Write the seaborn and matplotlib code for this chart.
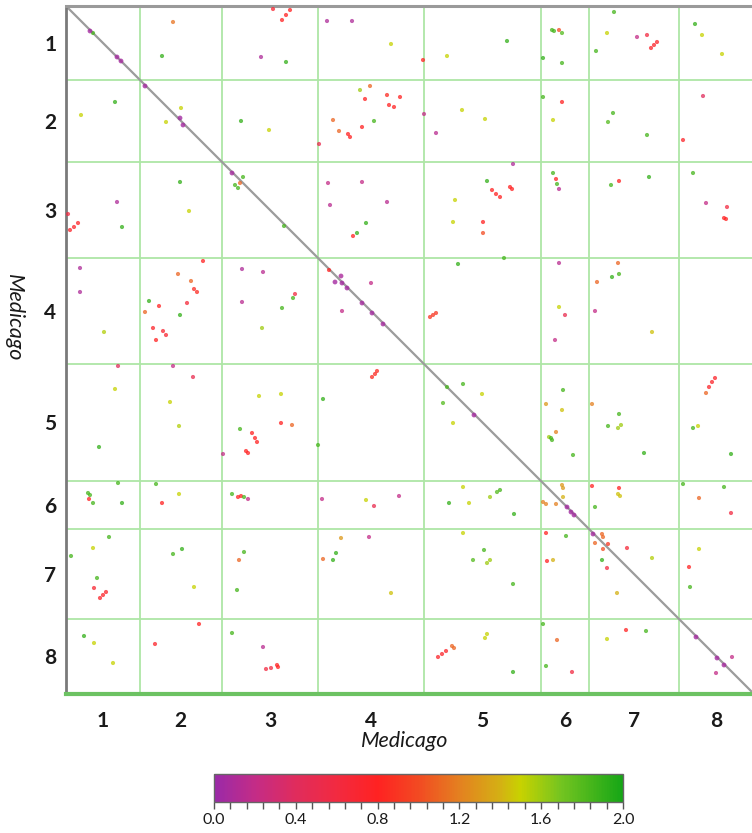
import matplotlib
matplotlib.use("Agg")
import numpy as np
import pandas as pd
import matplotlib.pyplot as plt
import seaborn as sns
from matplotlib.colors import LinearSegmentedColormap, Normalize
from matplotlib.cm import ScalarMappable
from matplotlib.ticker import MultipleLocator

# Medicago chromosomes (ordered along both axes) and their sizes
chrom_labels = ["1", "2", "3", "4", "5", "6", "7", "8"]
chrom_sizes = [73.5, 82.5, 96, 105.5, 117.5, 48, 90, 75]

# Syntenic anchor hits (x position, y position, Ks), grouped by y-axis chromosome
hits_chr1 = [(107, 16, 1.15), (96, 50, 1.9), (216, 14, 0.8), (220, 9, 0.8), (224, 4, 0.8),
             (207, 3, 0.7), (261, 15, 0.1), (286, 15, 0.1), (325, 38, 1.5), (357, 54, 0.8),
             (381, 50, 1.5), (195, 51, 0.1), (220, 56, 1.9), (441, 35, 1.9), (486, 24, 1.85),
             (488, 25, 1.85), (493, 24, 1.0), (496, 27, 1.8), (477, 52, 1.9), (496, 57, 1.85),
             (548, 6, 1.85), (541, 27, 1.5), (571, 31, 0.2), (581, 29, 0.6), (585, 42, 0.75),
             (588, 39, 0.75), (591, 36, 0.75), (530, 45, 1.85), (629, 18, 1.9), (636, 29, 1.5),
             (656, 48, 1.5), (27, 27, 1.85)]
hits_chr2 = [(49, 96, 1.9), (15, 109, 1.5), (115, 102, 1.5), (100, 116, 1.5), (175, 115, 1.9),
             (304, 80, 1.1), (294, 84, 1.6), (299, 93, 0.8), (321, 89, 0.85), (334, 91, 0.8),
             (323, 99, 0.8), (328, 101, 0.8), (267, 114, 1.1), (308, 115, 1.85), (296, 121, 0.8),
             (273, 125, 1.1), (282, 128, 0.8), (284, 131, 0.8), (253, 138, 0.5), (203, 124, 1.5),
             (358, 108, 0.2), (370, 127, 0.15), (396, 104, 1.5), (419, 113, 1.5), (477, 91, 1.85),
             (496, 96, 0.8), (487, 114, 1.5), (547, 107, 1.85), (542, 116, 1.8), (581, 129, 1.85),
             (637, 90, 0.4), (617, 134, 0.75)]
hits_chr3 = [(114, 176, 1.9), (51, 196, 0.1), (123, 205, 1.5), (2, 208, 0.6), (4, 224, 0.75),
             (8, 221, 0.75), (12, 217, 0.75), (56, 221, 1.9), (174, 177, 1.1), (169, 179, 1.85),
             (177, 171, 1.85), (172, 182, 1.85), (262, 177, 0.2), (296, 176, 0.2), (264, 199, 0.15),
             (321, 196, 0.15), (300, 217, 1.9), (291, 227, 1.9), (287, 230, 0.8), (421, 175, 1.9),
             (426, 184, 0.8), (430, 188, 0.8), (434, 191, 0.8), (389, 194, 1.5), (387, 216, 1.5),
             (417, 216, 0.8), (417, 227, 1.0), (447, 158, 0.1), (444, 181, 0.8), (446, 183, 0.8),
             (487, 167, 1.85), (490, 173, 0.8), (491, 178, 1.85), (493, 183, 0.15), (545, 179, 1.85),
             (553, 175, 0.8), (583, 171, 1.9), (627, 167, 1.85), (640, 197, 0.2), (661, 201, 0.6),
             (658, 212, 0.8), (660, 213, 0.8), (218, 220, 1.85)]
hits_chr4 = [(14, 262, 0.1), (14, 286, 0.1), (137, 255, 0.8), (112, 268, 1.1), (125, 275, 1.1),
             (128, 283, 0.85), (131, 286, 0.85), (83, 295, 1.9), (93, 300, 0.8), (79, 306, 1.1),
             (121, 297, 0.65), (114, 309, 1.9), (87, 322, 0.75), (97, 325, 0.7), (100, 329, 0.7),
             (90, 334, 0.8), (38, 326, 1.55), (176, 296, 0.15), (176, 263, 0.1), (197, 266, 0.15),
             (229, 288, 0.6), (227, 292, 1.85), (216, 302, 1.85), (196, 322, 1.6), (305, 277, 0.2),
             (276, 305, 0.2), (364, 311, 0.9), (367, 309, 0.9), (370, 307, 0.9), (392, 258, 1.9),
             (438, 252, 1.85), (493, 257, 0.15), (552, 257, 1.1), (546, 271, 1.9), (553, 268, 1.85),
             (531, 276, 1.1), (493, 301, 1.5), (499, 309, 0.5), (489, 334, 0.2), (529, 305, 0.2),
             (586, 326, 1.45), (263, 264, 0.8)]
hits_chr5 = [(52, 360, 0.4), (107, 360, 0.2), (127, 371, 0.5), (49, 383, 1.5), (104, 396, 1.5),
             (113, 420, 1.55), (33, 441, 1.9), (157, 448, 0.2), (174, 423, 1.85), (180, 445, 0.8),
             (182, 447, 0.8), (306, 371, 0.85), (309, 368, 0.85), (311, 365, 0.85), (193, 390, 1.5),
             (215, 388, 1.5), (257, 393, 1.9), (215, 417, 0.8), (226, 419, 1.1), (186, 427, 0.8),
             (189, 432, 0.8), (191, 436, 0.8), (252, 439, 1.85), (397, 378, 1.85), (416, 388, 1.5),
             (377, 397, 1.8), (387, 417, 1.5), (649, 372, 0.75), (646, 376, 0.75), (643, 381, 0.75),
             (640, 387, 1.1), (497, 384, 1.85), (480, 398, 1.3), (496, 404, 1.45), (526, 398, 1.2),
             (490, 426, 1.2), (483, 431, 1.6), (486, 434, 1.85), (485, 432, 1.85), (507, 449, 1.85),
             (553, 408, 1.85), (542, 420, 1.85), (552, 422, 1.6), (555, 419, 1.6), (578, 447, 1.9),
             (627, 422, 1.85), (632, 420, 1.5), (665, 448, 1.9), (381, 381, 1.85)]
hits_chr6 = [(397, 481, 1.5), (496, 479, 1.3), (497, 482, 1.3), (526, 480, 0.8), (553, 482, 0.8),
             (552, 488, 1.45), (554, 490, 1.45), (529, 501, 1.85), (434, 484, 1.85), (448, 508, 1.9),
             (617, 478, 1.85), (658, 481, 1.85), (633, 492, 1.1), (665, 507, 0.6), (477, 496, 1.2),
             (480, 498, 1.2), (490, 498, 1.2), (497, 491, 1.4), (52, 477, 1.85), (90, 478, 1.85),
             (22, 487, 1.85), (24, 489, 1.85), (23, 493, 0.8), (27, 497, 1.85), (56, 497, 1.9),
             (113, 488, 1.5), (96, 497, 0.8), (166, 488, 1.85), (172, 491, 0.8), (175, 490, 0.8),
             (178, 491, 1.85), (182, 493, 0.2), (256, 493, 0.2), (300, 494, 1.5), (308, 500, 0.5),
             (333, 490, 0.2), (383, 497, 1.9), (403, 497, 1.5), (424, 491, 1.6), (431, 486, 1.8)]
hits_chr7 = [(480, 527, 0.8), (500, 530, 1.85), (481, 555, 0.8), (487, 554, 1.4), (447, 578, 1.85),
             (536, 528, 1.1), (537, 531, 1.1), (529, 537, 1.1), (537, 543, 1.0), (542, 538, 0.9),
             (561, 542, 0.65), (536, 554, 1.9), (541, 562, 0.6), (586, 552, 1.55), (551, 587, 1.4),
             (623, 561, 0.8), (633, 543, 1.5), (624, 581, 1.85), (43, 531, 1.85), (27, 542, 1.5),
             (5, 550, 1.85), (31, 572, 1.85), (28, 582, 0.7), (34, 592, 0.75), (37, 589, 0.75),
             (40, 586, 0.75), (107, 548, 1.85), (116, 543, 1.9), (128, 581, 1.5), (178, 546, 1.85),
             (173, 554, 1.1), (171, 584, 1.85), (275, 532, 1.3), (303, 531, 0.2), (270, 547, 1.9),
             (257, 553, 1.1), (267, 554, 1.9), (325, 587, 1.45), (397, 527, 1.5), (418, 544, 1.85),
             (407, 554, 1.8), (421, 557, 1.6), (424, 554, 1.6)]
hits_chr8 = [(477, 618, 1.85), (491, 634, 1.1), (480, 660, 1.85), (447, 666, 1.9), (506, 666, 0.6),
             (560, 624, 0.8), (580, 625, 1.85), (541, 633, 1.5), (666, 651, 0.2), (650, 667, 0.2),
             (133, 618, 0.8), (18, 630, 1.9), (28, 637, 1.5), (89, 638, 0.75), (47, 657, 1.5),
             (166, 627, 1.85), (197, 641, 0.15), (200, 663, 0.6), (205, 662, 0.6), (211, 659, 0.8),
             (212, 661, 0.8), (372, 651, 0.75), (376, 648, 0.75), (380, 645, 0.75), (386, 640, 1.1),
             (388, 642, 1.1), (419, 632, 1.5), (421, 628, 1.5)]

# Recent (self) duplications along the main diagonal
self_x = [24, 51, 55, 79, 114, 117, 166, 269, 275, 276, 281, 296, 306, 317, 408,
          501, 505, 508, 527, 630, 651, 658]
self_y = [25, 51, 55, 80, 112, 119, 167, 276, 270, 277, 282, 297, 307, 318, 409,
          501, 506, 509, 528, 631, 652, 659]
self_ks = [0.05, 0.05, 0.06, 0.05, 0.04, 0.05, 0.06, 0.05, 0.08, 0.05, 0.05, 0.06, 0.05, 0.06, 0.05,
           0.05, 0.04, 0.05, 0.06, 0.05, 0.05, 0.06]

ks_ticks = [0.0, 0.4, 0.8, 1.2, 1.6, 2.0]

# ---------------------------------------------------------------------------
sns.set_style("white")
plt.rcParams["font.family"] = ["Lato", "DejaVu Sans"]

ks_cmap = LinearSegmentedColormap.from_list(
    "ks",
    [(0.0, "#9a2aa8"), (0.1, "#c42c86"), (0.2, "#e02c5c"), (0.3, "#f22a40"),
     (0.4, "#ff2222"), (0.5, "#f24a22"), (0.6, "#e48020"), (0.7, "#d4b014"),
     (0.75, "#c8d200"), (0.85, "#74c420"), (1.0, "#16a616")])

hits = pd.DataFrame(
    hits_chr1 + hits_chr2 + hits_chr3 + hits_chr4 + hits_chr5 + hits_chr6 + hits_chr7 + hits_chr8,
    columns=["x", "y", "ks"])
selfdup = pd.DataFrame({"x": self_x, "y": self_y, "ks": self_ks})

genome = float(sum(chrom_sizes))
bounds = np.cumsum(chrom_sizes)
starts = bounds - np.array(chrom_sizes)
centers = starts + np.array(chrom_sizes) / 2.0

fig = plt.figure(figsize=(7.52, 8.33), dpi=100)
ax = fig.add_axes([66 / 752, 1 - 694 / 833, 688 / 752, 688 / 833])

grid_green = "#aee6a6"
for b in bounds[:-1]:
    ax.axvline(b, color=grid_green, lw=1.3, zorder=1)
    ax.axhline(b, color=grid_green, lw=1.3, zorder=1)

ax.plot([0, genome], [0, genome], color="#9c9c9c", lw=1.6, zorder=2)

sns.scatterplot(data=hits, x="x", y="y", hue="ks", palette=ks_cmap, hue_norm=(0, 2),
                s=9, linewidth=0, alpha=0.75, legend=False, ax=ax, zorder=3)
sns.scatterplot(data=selfdup, x="x", y="y", hue="ks", palette=ks_cmap, hue_norm=(0, 2),
                s=12, linewidth=0, alpha=0.8, legend=False, ax=ax, zorder=4)

ax.set_xlim(0, genome)
ax.set_ylim(genome, 0)

ax.spines["right"].set_visible(False)
ax.spines["left"].set_color("#7a7a7a")
ax.spines["left"].set_linewidth(2)
ax.spines["top"].set_color("#9a9a9a")
ax.spines["top"].set_linewidth(2.2)
ax.spines["bottom"].set_color("#6cc262")
ax.spines["bottom"].set_linewidth(3)

ax.set_xticks(centers)
ax.set_xticklabels(chrom_labels, fontweight="bold")
ax.set_yticks(centers)
ax.set_yticklabels(chrom_labels, fontweight="bold")
ax.tick_params(axis="both", length=0, labelsize=15, labelcolor="#1a1a1a")
ax.tick_params(axis="x", pad=12)
ax.tick_params(axis="y", pad=7)

ax.set_xlabel("Medicago", style="italic", fontsize=15.5, color="#1a1a1a")
ax.xaxis.set_label_coords((405 - 66) / 688, (694 - 741) / 688)
ax.xaxis.label.set_va("center")
ax.set_ylabel("Medicago", style="italic", fontsize=15.5, color="#1a1a1a", rotation=-90)
ax.yaxis.set_label_coords((14 - 66) / 688, (694 - 318) / 688)
ax.yaxis.label.set_va("center")

# Ks colour scale
cax = fig.add_axes([214 / 752, 1 - 802 / 833, 409 / 752, 28 / 833])
cb = fig.colorbar(ScalarMappable(norm=Normalize(0, 2), cmap=ks_cmap), cax=cax,
                  orientation="horizontal")
cb.set_ticks(ks_ticks)
cb.set_ticklabels([f"{t:.1f}" for t in ks_ticks])
cb.ax.xaxis.set_minor_locator(MultipleLocator(0.08))
cb.ax.tick_params(which="both", length=5, width=1, color="#555555",
                  labelsize=11.5, labelcolor="#1a1a1a", pad=3)
cb.outline.set_edgecolor("#666666")
cb.outline.set_linewidth(1)

fig.savefig("out.png", dpi=100)
